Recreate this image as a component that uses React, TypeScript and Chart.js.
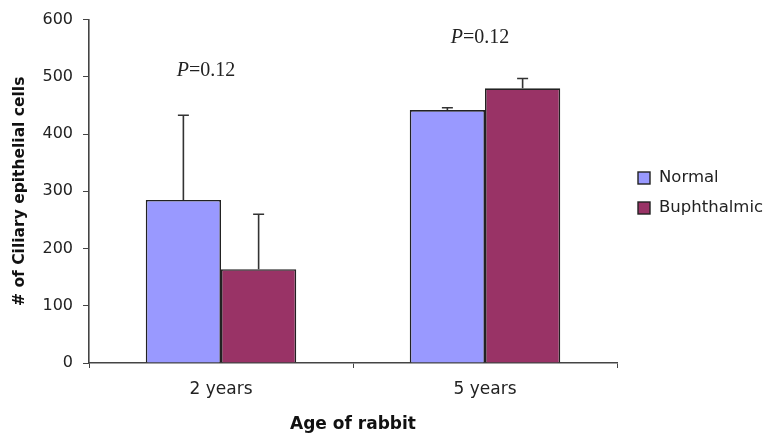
import React, { useEffect, useRef } from "react";
import { Chart, registerables } from "chart.js";

Chart.register(...registerables);

const categories = ["2 years", "5 years"];
const seriesNames = ["Normal", "Buphthalmic"];
const normalValues = [285, 442];
const normalErrors = [148, 4];
const buphValues = [164, 480];
const buphErrors = [96, 17];
const pValues = ["0.12", "0.12"];
const pAnchorValues = [510, 568];
const yMin = 0;
const yMax = 600;
const yStep = 100;

const SANS = '"DejaVu Sans", sans-serif';
const SERIF = '"Liberation Serif", "Times New Roman", serif';

const errorBarPlugin = {
  id: "errorBars",
  afterDatasetsDraw(chart: any) {
    const ctx = chart.ctx;
    const yScale = chart.scales.y;
    chart.data.datasets.forEach((ds: any, di: number) => {
      const meta = chart.getDatasetMeta(di);
      const errs: number[] = ds.errors || [];
      meta.data.forEach((bar: any, i: number) => {
        const v = ds.data[i];
        const e = errs[i] || 0;
        const x = bar.x;
        const y0 = yScale.getPixelForValue(v);
        const y1 = yScale.getPixelForValue(v + e);
        ctx.save();
        ctx.strokeStyle = "#333";
        ctx.lineWidth = 1.6;
        ctx.beginPath();
        ctx.moveTo(x, y0);
        ctx.lineTo(x, y1);
        ctx.moveTo(x - 5.5, y1);
        ctx.lineTo(x + 5.5, y1);
        ctx.stroke();
        ctx.restore();
      });
    });
  },
};

const pLabelPlugin = {
  id: "pLabels",
  afterDraw(chart: any) {
    const ctx = chart.ctx;
    const xScale = chart.scales.x;
    const yScale = chart.scales.y;
    const shifts = [-15, -5];
    pValues.forEach((p, i) => {
      const cx = xScale.getPixelForValue(i) + shifts[i];
      const cy = yScale.getPixelForValue(pAnchorValues[i]);
      ctx.save();
      ctx.fillStyle = "#222";
      ctx.textBaseline = "middle";
      ctx.textAlign = "left";
      ctx.font = `italic 20px ${SERIF}`;
      const wP = ctx.measureText("P").width;
      ctx.font = `20px ${SERIF}`;
      const rest = "=" + p;
      const wR = ctx.measureText(rest).width;
      const start = cx - (wP + wR) / 2;
      ctx.font = `italic 20px ${SERIF}`;
      ctx.fillText("P", start, cy);
      ctx.font = `20px ${SERIF}`;
      ctx.fillText(rest, start + wP, cy);
      ctx.restore();
    });
  },
};

const legendPlugin = {
  id: "customLegend",
  afterDraw(chart: any) {
    const ctx = chart.ctx;
    const left = 638;
    const top = 178;
    const gap = 30;
    chart.data.datasets.forEach((ds: any, i: number) => {
      const cy = top + i * gap;
      ctx.save();
      ctx.fillStyle = ds.backgroundColor;
      ctx.fillRect(left, cy - 6, 12, 12);
      ctx.strokeStyle = "#222";
      ctx.lineWidth = 1.4;
      ctx.strokeRect(left, cy - 6, 12, 12);
      ctx.fillStyle = "#222";
      ctx.font = `16.5px ${SANS}`;
      ctx.textBaseline = "middle";
      ctx.textAlign = "left";
      ctx.fillText(ds.label, left + 21, cy);
      ctx.restore();
    });
  },
};

export default function App() {
  const ref = useRef<HTMLCanvasElement | null>(null);

  useEffect(() => {
    if (!ref.current) return;
    const chart = new Chart(ref.current, {
      type: "bar",
      data: {
        labels: categories,
        datasets: [
          {
            label: seriesNames[0],
            data: normalValues,
            errors: normalErrors,
            backgroundColor: "#9999FF",
            borderColor: "#222",
            borderWidth: 1.6,
            categoryPercentage: 0.57,
            barPercentage: 1.0,
          } as any,
          {
            label: seriesNames[1],
            data: buphValues,
            errors: buphErrors,
            backgroundColor: "#993366",
            borderColor: "#222",
            borderWidth: 1.6,
            categoryPercentage: 0.57,
            barPercentage: 1.0,
          } as any,
        ],
      },
      options: {
        animation: false,
        responsive: false,
        maintainAspectRatio: false,
        layout: { padding: { top: 19, right: 150, left: 0, bottom: 0 } },
        plugins: {
          legend: { display: false },
          tooltip: { enabled: false },
        },
        scales: {
          x: {
            type: "category",
            offset: true,
            grid: {
              offset: true,
              drawOnChartArea: false,
              drawTicks: true,
              tickLength: 5,
              tickColor: "#444",
            },
            border: { display: true, color: "#444", width: 1.6 },
            ticks: {
              color: "#222",
              font: { family: SANS, size: 17 },
              padding: 11,
            },
            title: {
              display: true,
              text: "Age of rabbit",
              color: "#111",
              font: { family: SANS, size: 17, weight: "bold" },
              padding: { top: 0, bottom: 4 },
            },
            afterFit(scale: any) {
              scale.height = 76;
            },
          },
          y: {
            min: yMin,
            max: yMax,
            grid: {
              drawOnChartArea: false,
              drawTicks: true,
              tickLength: 6,
              tickColor: "#444",
            },
            border: { display: true, color: "#444", width: 1.6 },
            ticks: {
              stepSize: yStep,
              color: "#222",
              font: { family: SANS, size: 16 },
              padding: 10,
            },
            title: {
              display: true,
              text: "# of Ciliary epithelial cells",
              color: "#111",
              font: { family: SANS, size: 15.5, weight: "bold" },
              padding: { top: 11, bottom: 0 },
            },
            afterFit(scale: any) {
              scale.width = 89;
            },
          },
        },
      } as any,
      plugins: [errorBarPlugin, pLabelPlugin, legendPlugin],
    });
    return () => chart.destroy();
  }, []);

  return (
    <div style={{ position: "fixed", left: 0, top: 0, width: 767, height: 439, background: "#fff" }}>
      <canvas ref={ref} width={767} height={439} style={{ width: 767, height: 439 }} />
    </div>
  );
}
